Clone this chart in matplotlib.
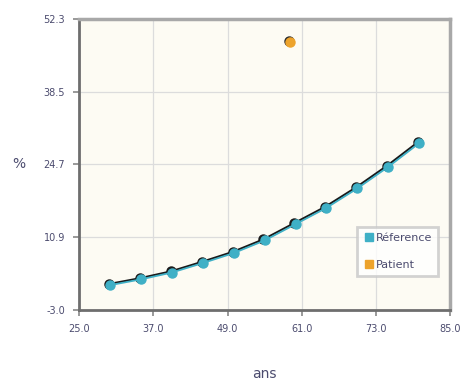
import matplotlib.pyplot as plt
import matplotlib.transforms as mtransforms
from matplotlib.lines import Line2D

# reference curve (age in years, %)
ref_age = [30, 35, 40, 45, 50, 55, 60, 65, 70, 75, 80]
ref_pct = [1.7, 2.8, 4.1, 5.9, 7.8, 10.2, 13.3, 16.4, 20.1, 24.2, 28.7]

# patient value
patient_age = [59.1]
patient_pct = [48.0]

x_ticks = [25.0, 37.0, 49.0, 61.0, 73.0, 85.0]
y_ticks = [-3.0, 10.9, 24.7, 38.5, 52.3]

TEAL = "#3fb0c6"
ORANGE = "#eda32c"
TEXT = "#4b4b6e"

fig = plt.figure(figsize=(4.63, 3.83), dpi=100)
fig.patch.set_facecolor("white")
ax = fig.add_axes([0.171, 0.191, 0.801, 0.759])
ax.set_facecolor("#fdfbf3")

# dark shadow slightly up-left, then the coloured marks
shadow = mtransforms.offset_copy(ax.transData, fig=fig, x=-0.8, y=0.8, units="points")
ax.plot(ref_age, ref_pct, color="#1a1a1a", lw=1.5, marker="o", ms=6.5,
        mfc="#1a1a1a", mec="#1a1a1a", transform=shadow, zorder=3)
ax.plot(ref_age, ref_pct, color=TEAL, lw=1.3, marker="o", ms=6.5,
        mfc=TEAL, mec=TEAL, zorder=4)
ax.plot(patient_age, patient_pct, ls="none", marker="o", ms=6.5,
        mfc="#2a2a2a", mec="#2a2a2a", transform=shadow, zorder=3)
ax.plot(patient_age, patient_pct, ls="none", marker="o", ms=6.5,
        mfc=ORANGE, mec=ORANGE, zorder=4)

ax.set_xlim(25, 85)
ax.set_ylim(-3.0, 52.3)
ax.set_xticks(x_ticks)
ax.set_yticks(y_ticks)
ax.set_xticklabels([f"{v:.1f}" for v in x_ticks])
ax.set_yticklabels([f"{v:.1f}" for v in y_ticks])
ax.tick_params(colors="#888888", labelcolor=TEXT, labelsize=7, length=4, width=1.2, pad=6)
ax.grid(True, color="#dcdcdc", lw=0.9)
ax.set_axisbelow(True)

for side in ["left", "bottom"]:
    ax.spines[side].set_color("#6e6e6e")
    ax.spines[side].set_linewidth(2.0)
for side in ["right", "top"]:
    ax.spines[side].set_color("#a8a8a8")
    ax.spines[side].set_linewidth(2.5)

ax.set_xlabel("ans", color=TEXT, fontsize=10, labelpad=24)
ax.set_ylabel("%", color=TEXT, fontsize=10, rotation=0, labelpad=18, va="center")

handles = [
    Line2D([], [], ls="none", marker="s", ms=6, mfc=TEAL, mec=TEAL, label="Réference"),
    Line2D([], [], ls="none", marker="s", ms=6, mfc=ORANGE, mec=ORANGE, label="Patient"),
]
leg = ax.legend(handles=handles, loc="lower right", bbox_to_anchor=(0.968, 0.117),
                fontsize=8, labelcolor=TEXT, frameon=True, fancybox=False,
                handletextpad=0.1, handlelength=1.0, borderpad=0.55, labelspacing=1.5,
                borderaxespad=0)
leg.get_frame().set_edgecolor("#c8c8c8")
leg.get_frame().set_linewidth(2.0)
leg.get_frame().set_facecolor("white")

fig.savefig("out.png", dpi=100)
